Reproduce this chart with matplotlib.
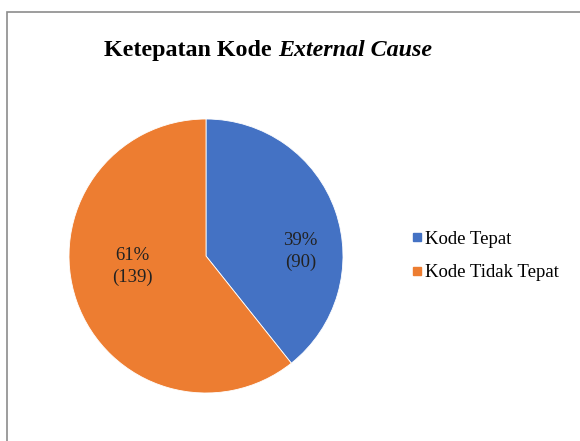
import matplotlib
matplotlib.use("Agg")
import matplotlib.pyplot as plt
from matplotlib.patches import Rectangle
from matplotlib.lines import Line2D

plt.rcParams['font.family'] = ['Liberation Serif', 'DejaVu Serif']

labels = ["Kode Tepat", "Kode Tidak Tepat"]
counts = [90, 139]
colors = ["#4472C4", "#ED7D31"]
title_plain = "Ketepatan Kode"
title_italic = "External Cause"

W, H = 580, 441
fig = plt.figure(figsize=(W / 100, H / 100), dpi=100)

# outer chart border (cut off on right and bottom like the screenshot)
fig.patches.append(Rectangle((7 / W, -0.1), 1.2, 1 - 12 / H + 0.1, transform=fig.transFigure,
                             fill=False, edgecolor="#8c8c8c", lw=1.2))

# pie axes: centre (206, 256) px, radius 137 px
cx, cy, r = 206, 256, 137
ax = fig.add_axes([(cx - r) / W, (H - cy - r) / H, 2 * r / W, 2 * r / H])
total = sum(counts)
wedges, texts, autotexts = ax.pie(
    counts, colors=colors, startangle=90, counterclock=False, radius=1,
    autopct=lambda p: f"{p:.0f}%\n({round(p * total / 100)})",
    wedgeprops=dict(edgecolor="white", linewidth=0.6),
    textprops=dict(fontsize=13.5, color="#222222", linespacing=1.35))
ax.set_xlim(-1, 1)
ax.set_ylim(-1, 1)
ax.set_aspect("equal")

# data label placement (Excel "best fit")
label_pos = [(0.69, 0.03), (-0.54, -0.08)]
for t, pos in zip(autotexts, label_pos):
    t.set_position(pos)
    t.set_ha("center")
    t.set_va("center")

# title: bold + bold italic on one baseline, centred together
ty = 1 - 56 / H
t1 = fig.text(0, ty, title_plain + " ", ha="left", va="baseline",
              fontsize=17.3, fontweight="bold")
t2 = fig.text(0, ty, title_italic, ha="left", va="baseline",
              fontsize=17.3, fontweight="bold", style="italic")
fig.canvas.draw()
rend = fig.canvas.get_renderer()
w1 = t1.get_window_extent(rend).width
w2 = t2.get_window_extent(rend).width
x0 = 268 - (w1 + w2) / 2
t1.set_x(x0 / W)
t2.set_x((x0 + w1) / W)

handles = [Line2D([], [], marker="s", linestyle="none", markersize=6,
                  markerfacecolor=c, markeredgecolor=c) for c in colors]
fig.legend(handles, labels, loc="center left", bbox_to_anchor=(411 / W, 1 - 256 / H),
           frameon=False, fontsize=13.5, handlelength=0.6, handletextpad=0.15,
           labelspacing=0.85, borderpad=0, borderaxespad=0)

fig.savefig("out.png", dpi=100)
